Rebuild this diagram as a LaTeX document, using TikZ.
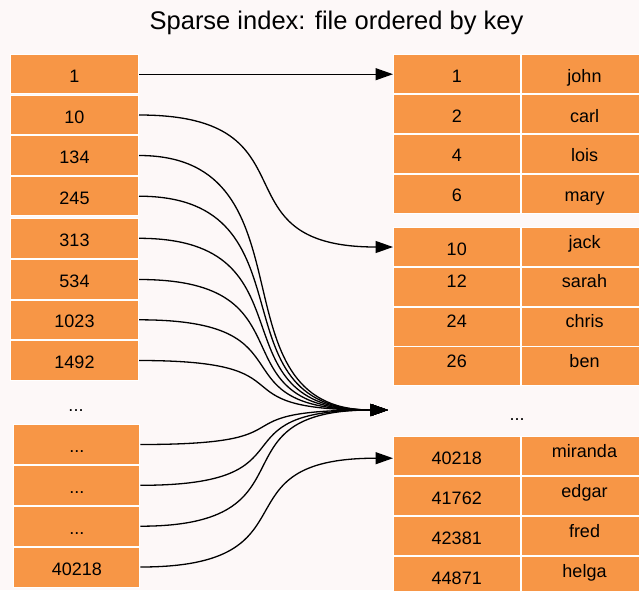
\documentclass[tikz,border=0pt]{standalone}
\usepackage{fontspec}
\setmainfont{Liberation Sans}
\usetikzlibrary{arrows.meta}
\definecolor{bgpink}{HTML}{FDF8F8}
\definecolor{cellorange}{HTML}{F79646}
\begin{document}
\begin{tikzpicture}[x=1pt,y=-1pt,
  cell/.style={rectangle, fill=cellorange, draw=white, line width=1pt,
    inner sep=0pt, text height=16pt, text depth=0pt,
    font=\fontsize{18}{22}\selectfont},
  lcell/.style={cell, minimum width=128pt, minimum height=39.5pt},
  lcellb/.style={cell, minimum width=126pt, minimum height=40pt},
  rcell/.style={cell, minimum width=126.5pt, minimum height=39pt},
  up/.style={text depth=14pt},
  dots/.style={inner sep=0pt, text height=13pt, text depth=0pt,
    font=\fontsize{18}{22}\selectfont},
  link/.style={line width=1.3pt, -{Triangle[length=17.5pt,width=12pt]}}
]
\useasboundingbox (0,0) rectangle (639,590);
\clip (0,0) rectangle (639,590);
\fill[bgpink] (0,0) rectangle (639,590);

% title
\node[anchor=base, font=\fontsize{25.5}{30}\selectfont] (title) at (336.5,29.5)
  {Sparse index: file ordered by key};

% sparse index, first block
\node[lcell] (l1) at (74.5,74.2)  {1};
\node[lcell] (l2) at (74.5,115)   {10};
\node[lcell] (l3) at (74.5,155.5) {134};
\node[lcell] (l4) at (74.5,196.2) {245};
\node[lcell] (l5) at (74.5,238.3) {313};
\node[lcell] (l6) at (74.5,279.5) {534};
\node[lcell] (l7) at (74.5,319.8) {1023};
\node[lcell] (l8) at (74.5,360.5) {1492};

\node[dots] (ldots) at (76,404.5) {...};

% sparse index, last block
\node[lcellb] (l9)  at (76.8,444.5) {...};
\node[lcellb] (l10) at (76.8,485.3) {...};
\node[lcellb] (l11) at (76.8,526.2) {...};
\node[lcellb] (l12) at (76.8,567)   {40218};

% data file, block 1
\node[rcell] (k1) at (456.75,74.2)  {1};   \node[rcell] (n1) at (584.5,74.2)  {john};
\node[rcell] (k2) at (456.75,114)   {2};   \node[rcell] (n2) at (584.5,114)   {carl};
\node[rcell] (k3) at (456.75,153.9) {4};   \node[rcell] (n3) at (584.5,153.9) {lois};
\node[rcell] (k4) at (456.75,193.7) {6};   \node[rcell] (n4) at (584.5,193.7) {mary};

% data file, block 2
\node[rcell] (k5) at (456.75,247)       {10};     \node[rcell,up] (n5) at (584.5,247)   {jack};
\node[rcell,up] (k6) at (456.75,286.9)  {12};     \node[rcell,up] (n6) at (584.5,286.9) {sarah};
\node[rcell,up] (k7) at (456.75,326.5)  {24};     \node[rcell,up] (n7) at (584.5,326.5) {chris};
\node[rcell,up] (k8) at (456.75,366.3)  {26};     \node[rcell,up] (n8) at (584.5,366.3) {ben};

\node[dots] (rdots) at (517,414) {...};

% data file, last block
\node[rcell] (k9)  at (456.75,456.2) {40218}; \node[rcell,up] (n9)  at (584.5,456.2) {miranda};
\node[rcell] (k10) at (456.75,496)   {41762}; \node[rcell,up] (n10) at (584.5,496)   {edgar};
\node[rcell] (k11) at (456.75,536)   {42381}; \node[rcell,up] (n11) at (584.5,536)   {fred};
\node[rcell] (k12) at (456.75,576)   {44871}; \node[rcell,up] (n12) at (584.5,576)   {helga};

% the entries between the blocks all point to one place
\coordinate (gap) at (388,410);

% pointers
\draw[link] (l1.east) -- (k1.west);
\draw[link] (l2.east) .. controls +(182,0) and +(-182,0) .. (k5.west);
\foreach \s in {l3,l4,l5,l6,l7,l8,l9,l10,l11}
  \draw[link] (\s.east) .. controls +(180,0) and +(-180,0) .. (gap);
\draw[link] (l12.east) .. controls +(182,0) and +(-182,0) .. ([yshift=-2pt]k9.west);
\end{tikzpicture}
\end{document}
